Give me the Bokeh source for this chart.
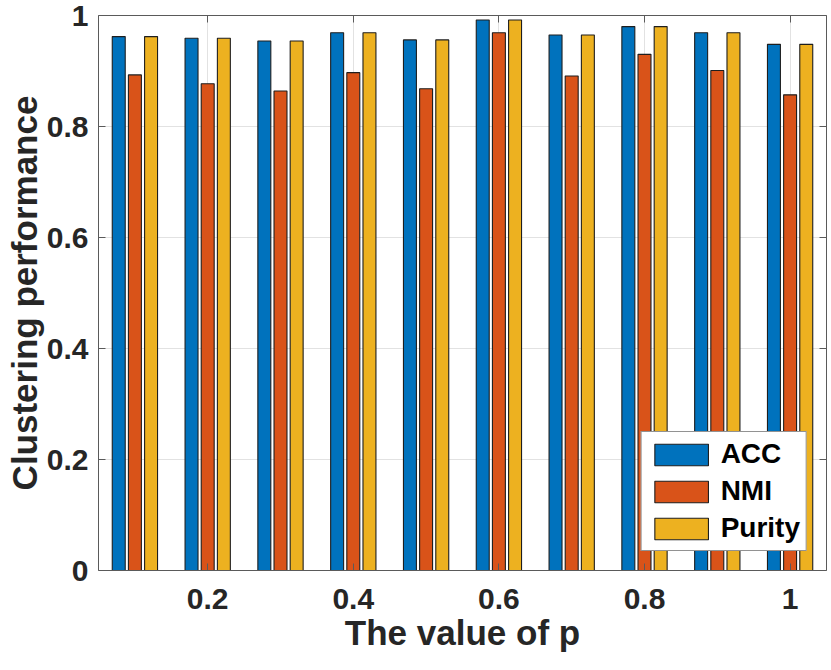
from bokeh.plotting import figure
from bokeh.models import (LinearAxis, FixedTicker, CustomJSTickFormatter, Range1d,
                          Legend, LegendItem, ColumnDataSource)
from bokeh.transform import dodge
from bokeh.embed import file_html
from bokeh.resources import INLINE

# ---- data ----
p_values = [0.1, 0.2, 0.3, 0.4, 0.5, 0.6, 0.7, 0.8, 0.9, 1.0]
acc = [0.962, 0.959, 0.954, 0.969, 0.956, 0.992, 0.965, 0.980, 0.969, 0.948]
nmi = [0.893, 0.877, 0.864, 0.897, 0.868, 0.969, 0.891, 0.930, 0.901, 0.857]
purity = [0.962, 0.959, 0.954, 0.969, 0.956, 0.992, 0.965, 0.980, 0.969, 0.948]
series_names = ["ACC", "NMI", "Purity"]
series_colors = ["#0072BD", "#D95319", "#EDB120"]
x_ticks = [0.2, 0.4, 0.6, 0.8, 1.0]
y_ticks = [0, 0.2, 0.4, 0.6, 0.8, 1.0]
x_label = "The value of p"
y_label = "Clustering performance"

source = ColumnDataSource(dict(x=p_values, acc=acc, nmi=nmi, purity=purity))

FONT = "Liberation Sans"
TXT = "#262626"
AXC = "#5a5a5a"

p = figure(width=831, height=670, x_range=Range1d(0.05, 1.05), y_range=Range1d(0, 1),
           output_backend="svg", toolbar_location=None,
           min_border_left=98, min_border_right=5, min_border_top=15, min_border_bottom=100)
p.outline_line_color = None
p.background_fill_color = "white"
p.border_fill_color = "white"

fmt_js = "return String(Math.round(tick * 10) / 10);"

for ax, ticks in ((p.xaxis[0], x_ticks), (p.yaxis[0], y_ticks)):
    ax.ticker = FixedTicker(ticks=ticks)
    ax.formatter = CustomJSTickFormatter(code=fmt_js)
    ax.major_tick_in = 7
    ax.major_tick_out = 0
    ax.minor_tick_line_color = None
    ax.axis_line_color = AXC
    ax.major_tick_line_color = AXC
    ax.major_label_text_font = FONT
    ax.major_label_text_font_style = "bold"
    ax.major_label_text_font_size = "30px"
    ax.major_label_text_color = TXT
    ax.axis_label_text_font = FONT
    ax.axis_label_text_font_style = "bold"
    ax.axis_label_text_font_size = "35px"
    ax.axis_label_text_color = TXT

p.xaxis[0].axis_label = x_label
p.xaxis[0].major_label_standoff = 18
p.xaxis[0].axis_label_standoff = 1
p.yaxis[0].axis_label = y_label
p.yaxis[0].major_label_standoff = 10
p.yaxis[0].axis_label_standoff = 0

# box axes (top / right) with inward ticks, no labels
for loc, ticks in (("above", x_ticks), ("right", y_ticks)):
    bx = LinearAxis(ticker=FixedTicker(ticks=ticks),
                    formatter=CustomJSTickFormatter(code="return '';"),
                    major_label_text_font_size="1px", major_label_standoff=0,
                    major_tick_in=7, major_tick_out=0, minor_tick_line_color=None,
                    axis_line_color=AXC, major_tick_line_color=AXC)
    p.add_layout(bx, loc)

p.xgrid.ticker = FixedTicker(ticks=x_ticks)
p.ygrid.ticker = FixedTicker(ticks=y_ticks)
p.xgrid.grid_line_color = "#e2e2e2"
p.ygrid.grid_line_color = "#e2e2e2"

offset = 0.0222
bw = 0.0178
renderers = []
for i, (col, name, color) in enumerate(zip(["acc", "nmi", "purity"], series_names, series_colors)):
    r = p.vbar(x=dodge("x", (i - 1) * offset, range=p.x_range), top=col, width=bw,
               source=source, fill_color=color, line_color="#1e1e1e", line_width=1.1)
    renderers.append((name, r))

legend = Legend(items=[LegendItem(label=n, renderers=[r]) for n, r in renderers],
                location="bottom_right", margin=19, padding=6, spacing=5,
                glyph_width=67, glyph_height=27, label_height=27, label_standoff=6,
                label_text_font=FONT, label_text_font_style="bold",
                label_text_font_size="28px", label_text_color="black",
                border_line_color=TXT, border_line_width=1,
                background_fill_color="white", background_fill_alpha=1)
p.add_layout(legend)

open("out.html", "w").write(file_html(p, INLINE))
